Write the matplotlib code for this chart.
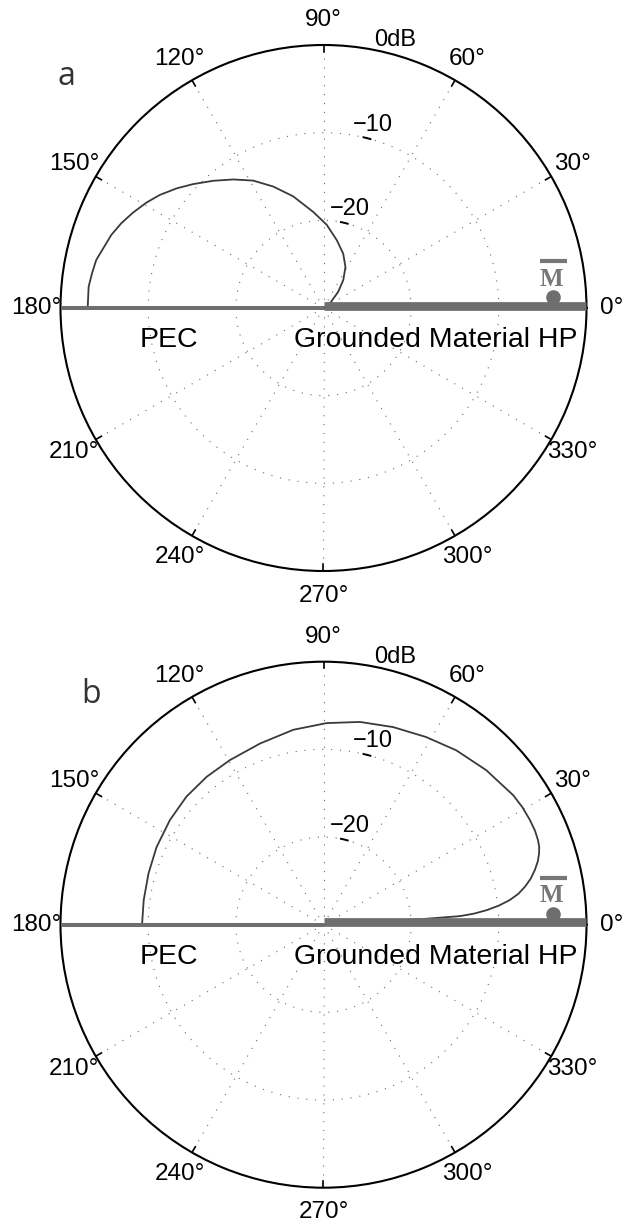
import numpy as np
import matplotlib
matplotlib.use('Agg')
from matplotlib import pyplot as plt
from matplotlib.transforms import ScaledTranslation

# Radiation pattern levels in dB (0 dB = outer circle, -30 dB = centre)
theta_a_deg = [180, 174.8, 171.5, 168.1, 164.6, 161.0, 157.2, 153.4, 149.2, 145.4, 140.8, 136.4,
               130.9, 125.0, 118.9, 112.5, 105.2, 96.0, 87.8, 79.0, 70.1, 61.8, 54.7, 47.8,
               35.7, 30, 0]
level_a_db = [-3.1, -3.1, -3.3, -3.5, -4.0, -4.4, -5.0, -5.7, -6.5, -7.3, -8.4, -9.5,
              -10.8, -12.1, -13.4, -15.0, -16.8, -19.0, -20.5, -22.1, -23.4, -24.7, -26.1, -27.5,
              -29.1, -30, -30]

theta_b_deg = [180, 172.2, 163.7, 155.1, 145.7, 136.9, 128.3, 119.6, 109.3, 98.8, 89.1, 79.8,
               70.6, 61.3, 52.7, 43.5, 34.3, 30.5, 26.9, 24.0, 21.5, 19.8, 18.3, 16.5, 14.5, 12.5,
               10.7, 9.0, 7.5, 6.2, 5.1, 4.2, 3.6, 3.3, 0]
level_b_db = [-9.3, -9.3, -9.2, -9.0, -8.8, -8.6, -8.5, -8.4, -8.1, -7.5, -7.0, -6.5,
              -6.1, -5.6, -5.0, -4.4, -3.8, -3.65, -3.6, -3.6, -3.7, -3.85, -4.1, -4.5, -5.1, -5.8,
              -6.6, -7.5, -8.6, -9.9, -11.3, -12.8, -14.4, -18.2, -30]

# magnetic source position (angle in deg, level in dB)
source_theta_deg = 2.7
source_level_db = -3.8

db_floor = -30
ring_db = [-20, -10, 0]
ring_labels = ['\u221220', '\u221210', '0dB']
angle_deg = [0, 30, 60, 90, 120, 150, 180, 210, 240, 270, 300, 330]
region_labels = ['PEC', 'Grounded Material HP']
panel_tags = ['a', 'b']

plt.rcParams['font.family'] = ['Liberation Sans', 'DejaVu Sans']

BAR = '#6e6e6e'
GRID = '#6a6a6a'


def draw_panel(fig, ax, theta_deg, level_db, tag, tag_xy):
    rmax = -db_floor
    ax.set_theta_zero_location('E')
    ax.set_ylim(0, rmax)
    ax.set_xticks([])
    ax.set_yticks([])
    ax.grid(False)
    ax.spines['polar'].set_linewidth(1.5)
    ax.spines['polar'].set_color('black')

    # dotted rings and spokes (MATLAB polar look)
    full = np.linspace(0, 2 * np.pi, 721)
    for db in ring_db[:-1]:
        ax.plot(full, np.full_like(full, db - db_floor), color=GRID, lw=0.8, ls=(0, (1, 7)), zorder=1)
    for a in angle_deg:
        t = np.radians(a)
        ax.plot([t, t], [0, rmax], color=GRID, lw=0.8, ls=(0, (1, 7)), zorder=1)
        ax.plot([t, t], [rmax * 0.975, rmax], color='black', lw=1.2, zorder=2)

    # little marks on the rings next to their labels
    for db, span in zip(ring_db[:-1], [(74.0, 78.5), (74.5, 76.8)]):
        tt = np.radians(np.linspace(span[0], span[1], 10))
        ax.plot(tt, np.full_like(tt, db - db_floor), color='black', lw=1.4, zorder=2)

    # pattern
    r = np.clip(np.array(level_db) - db_floor, 0, rmax)
    ax.plot(np.radians(theta_deg), r, color='#3a3a3a', lw=1.3, zorder=3)

    # ground plane: PEC on the left, material on the right
    ax.plot([np.pi, np.pi], [0, rmax], color=BAR, lw=2.9, solid_capstyle='butt', zorder=4)
    up = ax.transData + ScaledTranslation(0, 0.023, fig.dpi_scale_trans)
    ax.plot([0, 0], [0, rmax], color=BAR, lw=6.3, solid_capstyle='butt', zorder=4, transform=up)

    # source dot with M label
    ax.plot(np.radians(source_theta_deg), source_level_db - db_floor, 'o', ms=9.5,
            color=BAR, mec=BAR, zorder=5)
    ax.text(0.934, 0.555, 'M', transform=ax.transAxes, ha='center', va='center',
            family='Liberation Serif', weight='bold', fontsize=18, color='#777777')
    ax.plot([0.9115, 0.963], [0.5885, 0.5885], transform=ax.transAxes, color='#777777',
            lw=3.0, solid_capstyle='butt', clip_on=False)

    # angle labels
    for a in angle_deg:
        t = np.radians(a)
        ax.text(0.5 + 0.547 * np.cos(t), 0.5 + 0.547 * np.sin(t), '%d\u00b0' % a,
                transform=ax.transAxes, ha='center', va='center', fontsize=17.5)

    # ring labels
    for db, lab in zip(ring_db, ring_labels):
        rr = (db - db_floor + 1.65) / rmax * 0.5
        t = np.radians(75)
        ax.text(0.5 + rr * np.cos(t), 0.5 + rr * np.sin(t), lab, transform=ax.transAxes,
                ha='center', va='center', fontsize=17)

    ax.text(0.2063, 0.4392, region_labels[0], transform=ax.transAxes, ha='center',
            va='center', fontsize=20.5)
    ax.text(0.7125, 0.4392, region_labels[1], transform=ax.transAxes, ha='center',
            va='center', fontsize=20.5)

    ax.text(tag_xy[0], tag_xy[1], tag, transform=ax.transAxes, ha='center', va='center',
            family='Open Sans', fontsize=23, color='#333333')


fig = plt.figure(figsize=(6.28, 12.24), dpi=100)
W, H = 628.0, 1224.0
R = 263.0
cx = 323.5
centres = [308.0, 924.7]
data = [(theta_a_deg, level_a_db), (theta_b_deg, level_b_db)]
tag_pos = [(0.0105, 0.940), (0.058, 0.9375)]

for cy, (th, lv), tag, tp in zip(centres, data, panel_tags, tag_pos):
    ax = fig.add_axes([(cx - R) / W, (H - cy - R) / H, 2 * R / W, 2 * R / H], projection='polar')
    draw_panel(fig, ax, th, lv, tag, tp)

plt.savefig('out.png', dpi=100)
